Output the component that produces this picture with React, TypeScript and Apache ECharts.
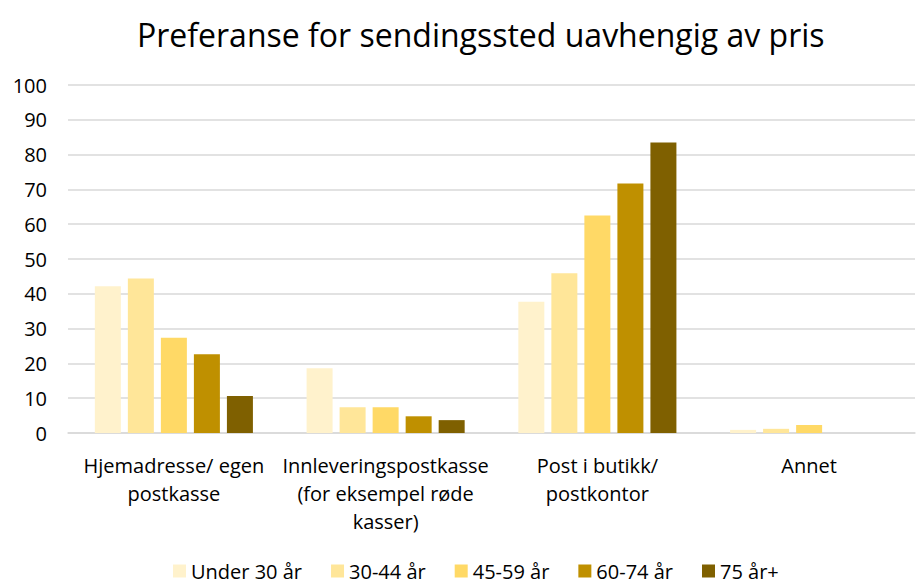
import React, { useEffect, useRef } from "react";
import * as echarts from "echarts";

const categories = [
  "Hjemadresse/ egen\npostkasse",
  "Innleveringspostkasse\n(for eksempel røde\nkasser)",
  "Post i butikk/\npostkontor",
  "Annet",
];
const seriesNames = ["Under 30 år", "30-44 år", "45-59 år", "60-74 år", "75 år+"];
const under30 = [42.2, 18.6, 37.7, 0.9];
const age30to44 = [44.4, 7.4, 45.9, 1.2];
const age45to59 = [27.4, 7.4, 62.5, 2.3];
const age60to74 = [22.6, 4.8, 71.7, 0];
const age75plus = [10.6, 3.7, 83.5, 0];
const colors = ["#FFF2CC", "#FFE699", "#FFD966", "#BF9000", "#7F6000"];

const FONT = "'Open Sans', 'Liberation Sans', sans-serif";

export default function App() {
  const ref = useRef<HTMLDivElement>(null);
  useEffect(() => {
    if (!ref.current) return;
    const chart = echarts.init(ref.current, undefined, { renderer: "svg" });
    const data = [under30, age30to44, age45to59, age60to74, age75plus];
    chart.setOption({
      animation: false,
      backgroundColor: "#fff",
      title: {
        text: "Preferanse for sendingssted uavhengig av pris",
        left: 132,
        top: 13,
        textStyle: { fontFamily: FONT, fontSize: 32, fontWeight: "normal", color: "#000" },
      },
      grid: { left: 68, right: 1, top: 85, bottom: 150 },
      legend: {
        top: 556,
        left: 168,
        itemWidth: 13,
        itemHeight: 13,
        itemGap: 29,
        icon: "rect",
        textStyle: { fontFamily: FONT, fontSize: 20, color: "#000" },
        data: seriesNames,
      },
      xAxis: {
        type: "category",
        data: categories,
        axisLine: { lineStyle: { color: "#d9d9d9", width: 1.5 } },
        axisTick: { show: false },
        axisLabel: {
          fontFamily: FONT,
          fontSize: 20,
          color: "#000",
          margin: 18,
          lineHeight: 28,
          interval: 0,
        },
      },
      yAxis: {
        type: "value",
        min: 0,
        max: 100,
        interval: 10,
        axisLine: { show: false },
        axisTick: { show: false },
        axisLabel: { fontFamily: FONT, fontSize: 20, color: "#000", margin: 21 },
        splitLine: { lineStyle: { color: "#d9d9d9", width: 1.5 } },
      },
      series: seriesNames.map((name, i) => ({
        name,
        type: "bar",
        data: data[i],
        barWidth: 26,
        barGap: "27%",
        itemStyle: { color: colors[i], borderWidth: 0 },
      })),
    });
    return () => chart.dispose();
  }, []);
  return (
    <div
      ref={ref}
      style={{ position: "absolute", left: 0, top: 0, width: 916, height: 583 }}
    />
  );
}
